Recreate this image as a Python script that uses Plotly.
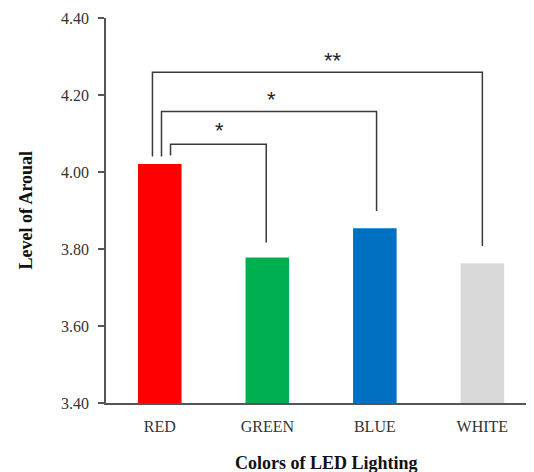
import plotly.graph_objects as go

categories = ["RED", "GREEN", "BLUE", "WHITE"]
values = [4.021, 3.778, 3.854, 3.763]
bar_colors = ["#FF0000", "#00B050", "#0070C0", "#D9D9D9"]

y_ticks = [3.40, 3.60, 3.80, 4.00, 4.20, 4.40]
y_tick_labels = ["3.40", "3.60", "3.80", "4.00", "4.20", "4.40"]

# significance brackets: start category (with offset), end category, heights
br_left_x = [0.10, 0.016, -0.068]
br_right_x = [0.99, 2.016, 3.0]
br_left_bottom = [4.043, 4.040, 4.040]
br_top = [4.072, 4.157, 4.259]
br_right_bottom = [3.817, 3.899, 3.808]
star_x = [0.552, 1.039, 1.609]
star_y = [4.113, 4.194, 4.295]
star_text = ["*", "*", "**"]

serif = "Liberation Serif, Times New Roman, serif"

fig = go.Figure()
fig.add_trace(go.Bar(
    x=list(range(len(categories))), y=[v - 3.4 for v in values], base=3.4,
    marker=dict(color=bar_colors, line=dict(width=0)),
    width=0.405, showlegend=False, hoverinfo="skip",
))

for i in range(len(br_top)):
    fig.add_trace(go.Scatter(
        x=[br_left_x[i], br_left_x[i], br_right_x[i], br_right_x[i]],
        y=[br_left_bottom[i], br_top[i], br_top[i], br_right_bottom[i]],
        mode="lines", line=dict(color="#3a3a3a", width=1.5),
        showlegend=False, hoverinfo="skip",
    ))
    fig.add_annotation(x=star_x[i], y=star_y[i], text=star_text[i], showarrow=False,
                       yshift=-2,
                       font=dict(family="Liberation Sans, Arial", size=22, color="#222222"))

fig.add_annotation(xref="paper", yref="paper", x=0.516, y=-0.156, xanchor="center", yanchor="middle",
                   text="<b>Colors of LED Lighting</b>",
                   showarrow=False, font=dict(family=serif, size=18, color="#111111"))
fig.add_annotation(xref="paper", yref="paper", x=-0.189, y=0.5, xanchor="center", yanchor="middle",
                   text="<b>Level of Aroual</b>",
                   textangle=-90, showarrow=False, font=dict(family=serif, size=18, color="#111111"))

fig.update_layout(
    width=526, height=464,
    margin=dict(l=98, r=0, t=10, b=69),
    paper_bgcolor="white", plot_bgcolor="white",
    xaxis=dict(range=[-0.5, 3.48], tickmode="array", tickvals=list(range(len(categories))),
               ticktext=categories, showline=True, linecolor="#555555", linewidth=1.5,
               ticks="", showgrid=False, zeroline=False, ticklabelstandoff=8,
               tickfont=dict(family=serif, size=16, color="#333333")),
    yaxis=dict(range=[3.4, 4.4], tickmode="array", tickvals=y_ticks, ticktext=y_tick_labels,
               showline=True, linecolor="#555555", linewidth=1.5, ticks="outside", ticklen=6,
               tickcolor="#555555", tickwidth=1.5, showgrid=False, zeroline=False,
               ticklabelstandoff=6,
               tickfont=dict(family=serif, size=16, color="#333333")),
)

fig.write_html("out.html")
